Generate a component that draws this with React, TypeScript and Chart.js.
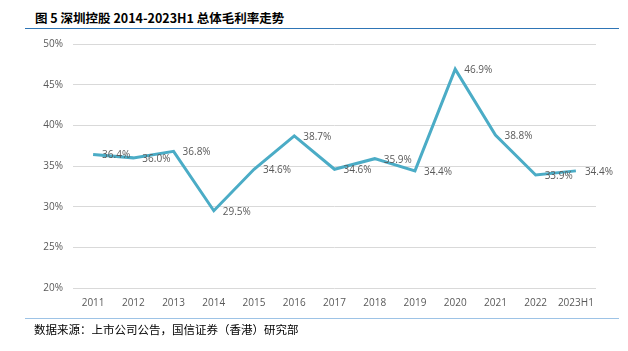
import React, { useEffect, useRef } from "react";
import { Chart, registerables } from "chart.js";

Chart.register(...registerables);

const categories = ["2011", "2012", "2013", "2014", "2015", "2016", "2017", "2018", "2019", "2020", "2021", "2022", "2023H1"];
const grossMargin = [36.4, 36.0, 36.8, 29.5, 34.6, 38.7, 34.6, 35.9, 34.4, 46.9, 38.8, 33.9, 34.4];
const yTicks = [20, 25, 30, 35, 40, 45, 50];

const titleText = "图 5 深圳控股 2014-2023H1 总体毛利率走势";
const sourceText = "数据来源：上市公司公告，国信证券（香港）研究部";

const FONT = "'Open Sans', 'Noto Sans', sans-serif";

const labelPlugin = {
  id: "pointLabels",
  afterDatasetsDraw(chart: any) {
    const ctx = chart.ctx;
    const meta = chart.getDatasetMeta(0);
    ctx.save();
    ctx.font = `10px ${FONT}`;
    ctx.fillStyle = "#595959";
    ctx.textAlign = "left";
    ctx.textBaseline = "middle";
    meta.data.forEach((pt: any, i: number) => {
      ctx.fillText(grossMargin[i].toFixed(1) + "%", pt.x + 9, pt.y + 1);
    });
    ctx.restore();
  },
};

export default function App() {
  const ref = useRef<HTMLCanvasElement>(null);
  useEffect(() => {
    if (!ref.current) return;
    const chart = new Chart(ref.current, {
      type: "line",
      data: {
        labels: categories,
        datasets: [
          {
            data: grossMargin,
            borderColor: "#4BACC6",
            borderWidth: 3,
            pointRadius: 0,
            tension: 0,
            fill: false,
          },
        ],
      },
      options: {
        animation: false,
        responsive: false,
        maintainAspectRatio: false,
        layout: { padding: { top: 44, right: 32, bottom: 0, left: 0 } },
        plugins: { legend: { display: false }, tooltip: { enabled: false } },
        scales: {
          x: {
            offset: true,
            grid: { display: false, drawTicks: false },
            border: { display: false },
            ticks: { color: "#595959", font: { size: 10, family: FONT }, padding: 9, maxRotation: 0, autoSkip: false },
            afterFit(scale: any) { scale.height = 63; },
          },
          y: {
            min: 20,
            max: 50,
            grid: { color: "#D9D9D9", lineWidth: 1, drawTicks: false },
            border: { display: false },
            afterBuildTicks(scale: any) { scale.ticks = yTicks.map((v) => ({ value: v })); },
            ticks: {
              color: "#595959",
              font: { size: 10, family: FONT },
              padding: 10,
              callback: (v: any) => v + "%",
            },
            afterFit(scale: any) { scale.width = 73; },
          },
        },
      },
      plugins: [labelPlugin],
    });
    return () => chart.destroy();
  }, []);

  return (
    <div style={{ position: "fixed", left: 0, top: 0, width: 628, height: 351, background: "#fff", overflow: "hidden" }}>
      <div style={{ position: "absolute", left: 35, top: 9, fontFamily: "'Noto Sans CJK SC', sans-serif", fontWeight: 700, fontSize: 12.5, color: "#000", whiteSpace: "nowrap", lineHeight: "18px" }}>
        {titleText}
      </div>
      <div style={{ position: "absolute", left: 25, top: 28, width: 594, height: 1, background: "#2E75B6" }} />
      <canvas ref={ref} width={628} height={351} style={{ position: "absolute", left: 0, top: 0 }} />
      <div style={{ position: "absolute", left: 25, top: 318, width: 594, height: 1, background: "#9DC3E6" }} />
      <div style={{ position: "absolute", left: 34, top: 321, fontFamily: "'Noto Sans CJK SC', sans-serif", fontSize: 11.5, color: "#000", whiteSpace: "nowrap", lineHeight: "17px" }}>
        {sourceText}
      </div>
    </div>
  );
}
